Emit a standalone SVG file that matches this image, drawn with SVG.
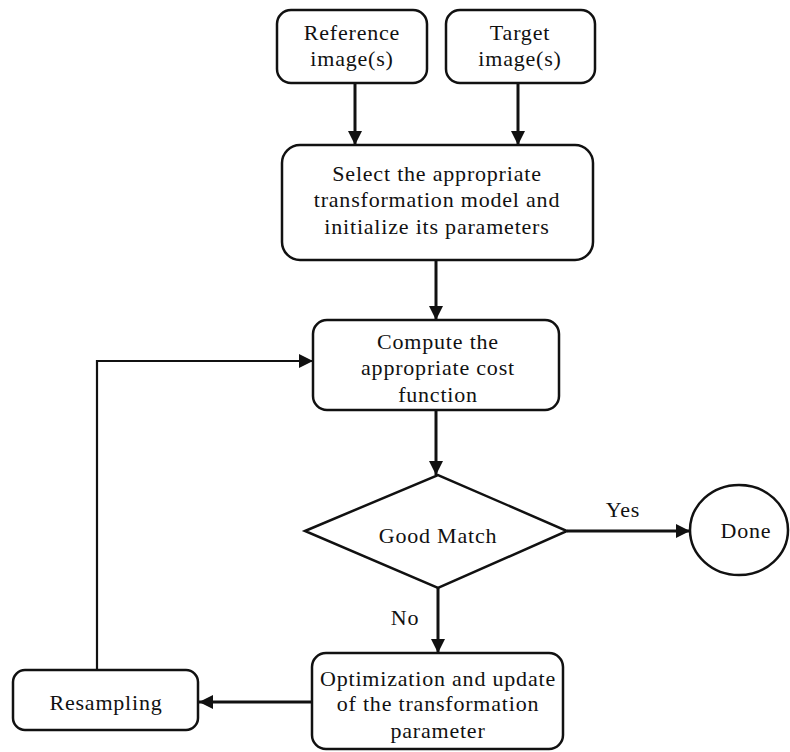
<svg xmlns="http://www.w3.org/2000/svg" width="790" height="752" viewBox="0 0 790 752">
  <style>
    .box { fill: #fff; stroke: #111; stroke-width: 2.5; }
    .lbl { font-family: "Liberation Serif", "DejaVu Serif", "Times New Roman", serif; font-size: 22px; fill: #111; text-anchor: middle; letter-spacing: 0.8px; }
    .edge { fill: none; stroke: #111; stroke-width: 3; }
    .thin { fill: none; stroke: #111; stroke-width: 2.2; }
  </style>
  <defs>
    <marker id="arrowL" viewBox="0 0 10 10" refX="10" refY="5" markerWidth="14" markerHeight="14" markerUnits="userSpaceOnUse" orient="auto">
      <path d="M0,0 L10,5 L0,10 z" fill="#111"/>
    </marker>
  </defs>

  <rect width="790" height="752" fill="#fff"/>

  <g id="connectors">
    <path class="edge" d="M355,83 V145" marker-end="url(#arrowL)"/>
    <path class="edge" d="M518,83 V145" marker-end="url(#arrowL)"/>
    <path class="edge" d="M436,260 V320" marker-end="url(#arrowL)"/>
    <path class="edge" d="M436,410 V475" marker-end="url(#arrowL)"/>
    <path class="edge" d="M567,531 H690" marker-end="url(#arrowL)"/>
    <path class="edge" d="M438,588 V653" marker-end="url(#arrowL)"/>
    <path class="edge" d="M312,702 H199" marker-end="url(#arrowL)"/>
    <path class="thin" d="M97,670 V361 H313" marker-end="url(#arrowL)"/>
    <text class="lbl" x="623" y="517">Yes</text>
    <text class="lbl" x="405" y="625">No</text>
  </g>

  <g id="reference">
    <rect class="box" x="277" y="10" width="150" height="73" rx="14"/>
    <text class="lbl" x="352" y="40">Reference</text>
    <text class="lbl" x="352" y="66">image(s)</text>
  </g>

  <g id="target">
    <rect class="box" x="446" y="10" width="149" height="73" rx="14"/>
    <text class="lbl" x="520" y="40">Target</text>
    <text class="lbl" x="520" y="66">image(s)</text>
  </g>

  <g id="select-model">
    <rect class="box" x="282" y="145" width="311" height="115" rx="18"/>
    <text class="lbl" x="437" y="181">Select the appropriate</text>
    <text class="lbl" x="437" y="207">transformation model and</text>
    <text class="lbl" x="437" y="234">initialize its parameters</text>
  </g>

  <g id="cost-function">
    <rect class="box" x="313" y="320" width="246" height="90" rx="14"/>
    <text class="lbl" x="438" y="349">Compute the</text>
    <text class="lbl" x="438" y="375">appropriate cost</text>
    <text class="lbl" x="438" y="402">function</text>
  </g>

  <g id="good-match">
    <polygon class="box" points="305,531 438,475 567,531 438,588"/>
    <text class="lbl" x="438" y="543">Good Match</text>
  </g>

  <g id="done">
    <ellipse class="box" cx="739" cy="530" rx="49" ry="45"/>
    <text class="lbl" x="746" y="538">Done</text>
  </g>

  <g id="optimization">
    <rect class="box" x="312" y="653" width="251" height="96" rx="14"/>
    <text class="lbl" x="438" y="686">Optimization and update</text>
    <text class="lbl" x="438" y="711">of the transformation</text>
    <text class="lbl" x="438" y="738">parameter</text>
  </g>

  <g id="resampling">
    <rect class="box" x="13" y="670" width="185" height="60" rx="12"/>
    <text class="lbl" x="106" y="710">Resampling</text>
  </g>
</svg>
